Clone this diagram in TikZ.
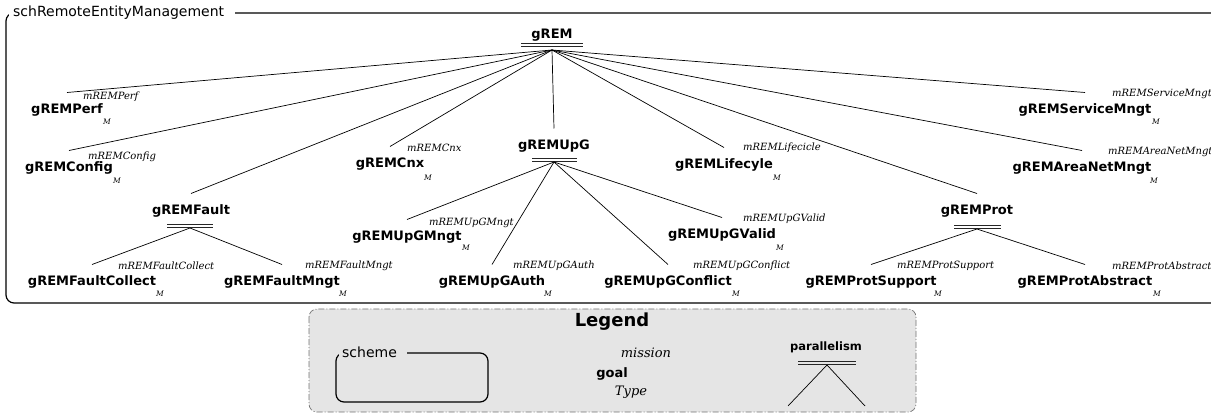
\documentclass[tikz,border=0pt]{standalone}
\usepackage{fontspec}
\setmainfont{DejaVu Sans}
\newfontfamily\seriffam{DejaVu Serif}
% two parallel rules marking a parallel decomposition: x-from, x-to, y of the upper rule
\newcommand\pbar[3]{\draw[parbar] (#1,#3) -- (#2,#3) (#1,#3+3) -- (#2,#3+3);}
\begin{document}
\begin{tikzpicture}[x=1pt,y=-1pt,
  goal/.style={font=\bfseries\fontsize{13}{15}\selectfont, inner sep=0pt,
    text height=10pt, text depth=1pt, outer xsep=0pt, outer ysep=11pt},
  mis/.style={font=\seriffam\itshape\fontsize{10}{12}\selectfont, inner sep=0pt, anchor=west},
  card/.style={font=\seriffam\itshape\fontsize{7.5}{9}\selectfont, inner sep=0pt},
  link/.style={line width=0.7pt},
  parbar/.style={line width=0.8pt, draw=black!85},
  frame/.style={line width=1.2pt, rounded corners=8pt},
  framelabel/.style={font=\fontsize{14}{16}\selectfont, inner xsep=4pt, inner ysep=3pt},
  legendbox/.style={fill=black!10, draw=black!55, line width=0.7pt, rounded corners=8pt,
    dash pattern=on 6pt off 2pt on 1pt off 2pt}
]
\clip (0,0) rectangle (1211,414);

% scheme frame
\draw[frame] (235,13) -- (1230,13) -- (1230,303) -- (6,303) -- (6,13) -- (20,13);
\node[framelabel, fill=white, anchor=west] (sch) at (9,13) {schRemoteEntityManagement};

% goals
\node[goal] (root) at (552,34) {gREM};
\node[goal] (perf) at (67,109) {gREMPerf};
\node[goal] (config) at (69,167) {gREMConfig};
\node[goal] (fault) at (191,210) {gREMFault};
\node[goal] (faultcollect) at (92,281) {gREMFaultCollect};
\node[goal] (faultmngt) at (282,281) {gREMFaultMngt};
\node[goal] (cnx) at (390,163) {gREMCnx};
\node[goal] (upg) at (554,145) {gREMUpG};
\node[goal] (upgmngt) at (407,236) {gREMUpGMngt};
\node[goal] (upgauth) at (492,281) {gREMUpGAuth};
\node[goal] (upgconflict) at (668,281) {gREMUpGConflict};
\node[goal] (upgvalid) at (722,234) {gREMUpGValid};
\node[goal] (lifecyle) at (724,164) {gREMLifecyle};
\node[goal] (areanet) at (1082,167) {gREMAreaNetMngt};
\node[goal] (prot) at (977,210) {gREMProt};
\node[goal] (protsupport) at (871,281) {gREMProtSupport};
\node[goal] (protabstract) at (1085,281) {gREMProtAbstract};
\node[goal] (servicemngt) at (1085,109) {gREMServiceMngt};

% parallelism bars and their junctions
\pbar{521}{583}{43.5}
\coordinate (root-j) at (552,50);
\pbar{167}{213}{224}
\coordinate (fault-j) at (190,228);
\pbar{532}{577}{158}
\coordinate (upg-j) at (554,162);
\pbar{954}{1001}{225}
\coordinate (prot-j) at (977,229);

% decompositions
\foreach \c in {perf,config,fault,cnx,upg,lifecyle,areanet,prot,servicemngt}
  \draw[link] (root-j) -- (\c.north);
\foreach \c in {faultcollect,faultmngt}
  \draw[link] (fault-j) -- (\c.north);
\foreach \c in {upgmngt,upgauth,upgconflict,upgvalid}
  \draw[link] (upg-j) -- (\c.north);
\foreach \c in {protsupport,protabstract}
  \draw[link] (prot-j) -- (\c.north);

% missions
\node[mis] (m-perf) at (83,97) {mREMPerf};
\node[mis] (m-config) at (88,157) {mREMConfig};
\node[mis] (m-faultcollect) at (118,266) {mREMFaultCollect};
\node[mis] (m-faultmngt) at (305,266) {mREMFaultMngt};
\node[mis] (m-cnx) at (407,148) {mREMCnx};
\node[mis] (m-upgmngt) at (429,223) {mREMUpGMngt};
\node[mis] (m-upgauth) at (513,266) {mREMUpGAuth};
\node[mis] (m-upgconflict) at (693,266) {mREMUpGConflict};
\node[mis] (m-upgvalid) at (743,219) {mREMUpGValid};
\node[mis] (m-lifecyle) at (743,148) {mREMLifecicle};
\node[mis] (m-areanet) at (1108,152) {mREMAreaNetMngt};
\node[mis] (m-protsupport) at (897,266) {mREMProtSupport};
\node[mis] (m-protabstract) at (1112,266) {mREMProtAbstract};
\node[mis] (m-servicemngt) at (1112,94) {mREMServiceMngt};

% goal types
\node[card] (t-perf) at (107,122) {M};
\node[card] (t-config) at (117,181) {M};
\node[card] (t-faultcollect) at (160,294) {M};
\node[card] (t-faultmngt) at (343,294) {M};
\node[card] (t-cnx) at (428,178) {M};
\node[card] (t-upgmngt) at (466,248) {M};
\node[card] (t-upgauth) at (548,294) {M};
\node[card] (t-upgconflict) at (736,294) {M};
\node[card] (t-upgvalid) at (780,248) {M};
\node[card] (t-lifecyle) at (777,178) {M};
\node[card] (t-areanet) at (1154,181) {M};
\node[card] (t-protsupport) at (938,294) {M};
\node[card] (t-protabstract) at (1157,294) {M};
\node[card] (t-servicemngt) at (1156,122) {M};

% legend
\draw[legendbox] (309,309) rectangle (916,412);
\node[font=\bfseries\fontsize{18}{20}\selectfont, inner sep=0pt] (legend) at (612,322) {Legend};
\draw[frame] (407,353) -- (488,353) -- (488,402) -- (336,402) -- (336,353) -- (348,353);
\node[framelabel, fill=black!10, anchor=west, inner xsep=3pt] (lg-scheme) at (339,352) {scheme};
\node[font=\seriffam\itshape\fontsize{13}{15}\selectfont, inner sep=0pt] (lg-mission) at (646,353) {mission};
\node[font=\bfseries\fontsize{13}{15}\selectfont, inner sep=0pt] (lg-goal) at (612,374) {goal};
\node[font=\seriffam\itshape\fontsize{13}{15}\selectfont, inner sep=0pt] (lg-type) at (631,392) {Type};
\node[font=\bfseries\fontsize{11.5}{13}\selectfont, inner sep=0pt] (lg-par) at (826,347) {parallelism};
\pbar{798}{856}{361}
\coordinate (lg-par-j) at (827,365);
\coordinate (lg-left) at (788,406);
\coordinate (lg-right) at (865,406);
\draw[link] (lg-par-j) -- (lg-left);
\draw[link] (lg-par-j) -- (lg-right);
\end{tikzpicture}
\end{document}
